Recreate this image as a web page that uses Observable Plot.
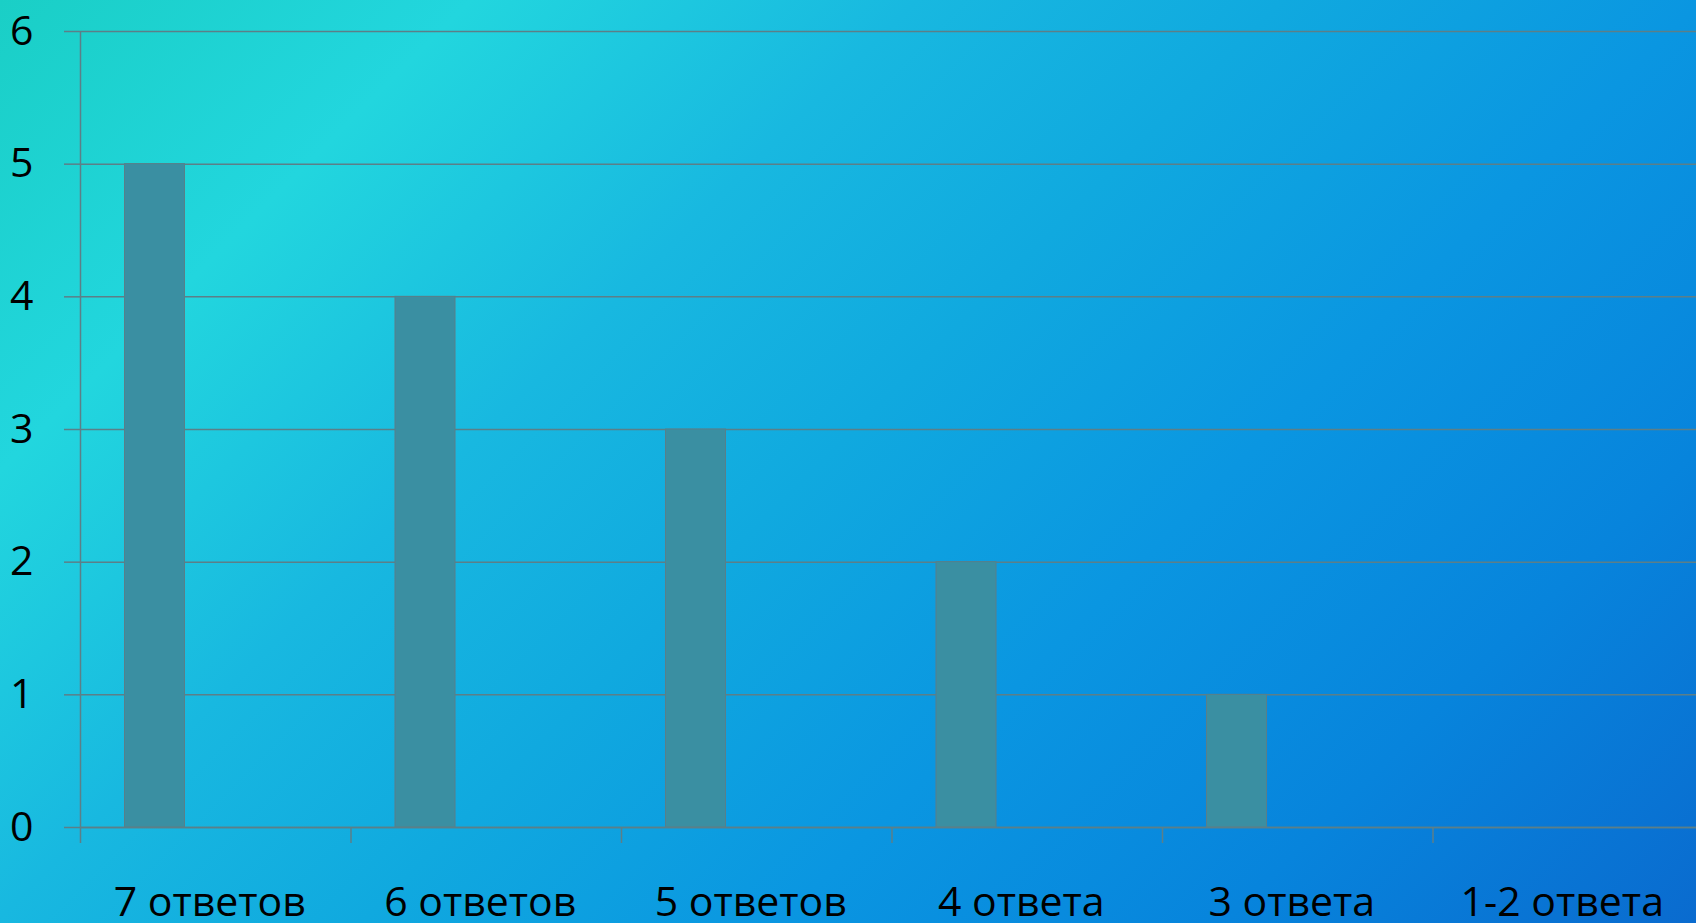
<!DOCTYPE html>
<html>
<head>
<meta charset="utf-8">
<script src="https://cdn.jsdelivr.net/npm/d3@7"></script>
<script src="https://cdn.jsdelivr.net/npm/@observablehq/plot@0.6"></script>
<style>
  html, body { margin: 0; padding: 0; width: 1696px; height: 923px; overflow: hidden; }
  body {
    background: linear-gradient(135deg,
      #1acfc6 0%, #22d6de 18%, #18b8e0 35%, #10a9df 49%,
      #0a96e1 65%, #0784dc 82%, #0a6bcf 100%);
  }
  #chart svg { display: block; }
</style>
</head>
<body>
<div id="chart"></div>
<script>
// Number of participants by count of correct answers
const categories = ["7 ответов", "6 ответов", "5 ответов", "4 ответа", "3 ответа", "1-2 ответа"];
const counts = [5, 4, 3, 2, 1, 0];
const yTicks = [0, 1, 2, 3, 4, 5, 6];

const data = categories.map((category, index) => ({ category, index, count: counts[index] }));
const boundaries = d3.range(categories.length + 1);
const centers = categories.map((_, i) => i + 0.5);

const gridColor = "#5c7f88";

const chart = Plot.plot({
  width: 1696,
  height: 923,
  marginLeft: 80,
  marginRight: 0,
  marginTop: 31,
  marginBottom: 96,
  style: {
    background: "transparent",
    fontFamily: "'Open Sans', sans-serif",
    fontSize: "41px",
    color: "#000",
    overflow: "visible"
  },
  x: { domain: [0, categories.length], range: [80, 1703], axis: null },
  y: { domain: [0, 6], axis: null },
  marks: [
    Plot.gridY(yTicks, { stroke: gridColor, strokeOpacity: 1, strokeWidth: 1.5 }),
    Plot.axisY({
      ticks: yTicks, tickSize: 16, tickPadding: 31,
      stroke: gridColor, strokeWidth: 1.5, fill: "#000",
      tickFormat: d => String(d), label: null
    }),
    Plot.ruleX([0], { stroke: gridColor, strokeWidth: 1.5 }),
    Plot.axisX({
      ticks: boundaries, tickSize: 16, tickFormat: () => "",
      stroke: gridColor, strokeWidth: 1.5, label: null
    }),
    Plot.axisX({
      ticks: centers, tickSize: 0, tickPadding: 59, dx: -6, fill: "#000",
      tickFormat: d => categories[Math.floor(d)], label: null
    }),
    Plot.rectY(data.filter(d => d.count > 0), {
      x1: "index", x2: d => d.index + 1, y: "count",
      insetLeft: 44.5, insetRight: 166,
      fill: "#3a8fa2", stroke: "#587f8a", strokeWidth: 1
    }),
    Plot.ruleY([0], { stroke: gridColor, strokeWidth: 1.5 })
  ]
});

document.getElementById("chart").append(chart);
</script>
</body>
</html>
